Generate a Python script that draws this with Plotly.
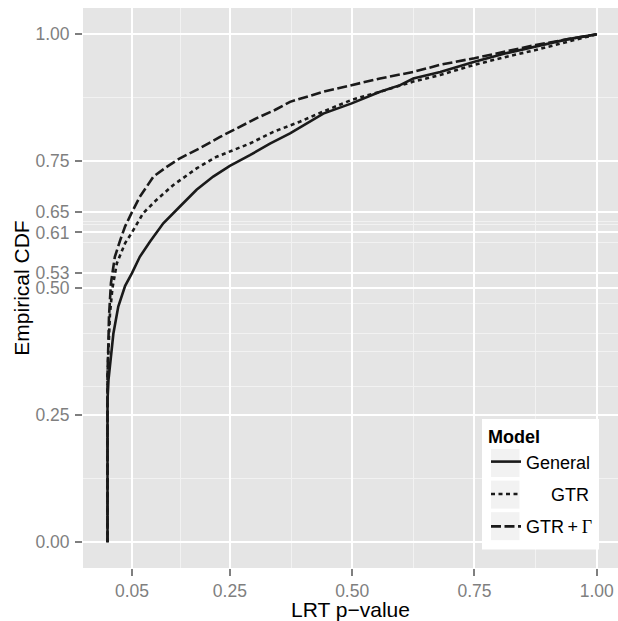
import plotly.graph_objects as go

# ---------------- data ----------------
general_x = [0, 0, 0.002, 0.005, 0.012, 0.022, 0.036, 0.050, 0.066, 0.087, 0.114, 0.148,
             0.182, 0.216, 0.250, 0.291, 0.332, 0.373, 0.441, 0.499, 0.557, 0.598, 0.625,
             0.680, 0.750, 0.816, 0.875, 0.939, 1.0]
general_y = [0, 0.28, 0.32, 0.352, 0.411, 0.464, 0.505, 0.53, 0.562, 0.592, 0.628, 0.661,
             0.694, 0.720, 0.741, 0.762, 0.785, 0.805, 0.844, 0.864, 0.887, 0.900, 0.913,
             0.926, 0.946, 0.963, 0.976, 0.990, 1.0]

gtr_x = [0, 0, 0.002, 0.005, 0.010, 0.019, 0.036, 0.050, 0.073, 0.100, 0.134, 0.182,
         0.223, 0.250, 0.291, 0.339, 0.393, 0.441, 0.499, 0.557, 0.625, 0.680, 0.750,
         0.816, 0.875, 0.939, 1.0]
gtr_y = [0, 0.33, 0.38, 0.45, 0.50, 0.549, 0.589, 0.61, 0.648, 0.674, 0.703, 0.736,
         0.759, 0.769, 0.785, 0.808, 0.828, 0.848, 0.871, 0.887, 0.907, 0.920, 0.940,
         0.956, 0.969, 0.985, 1.0]

gtrg_x = [0, 0, 0.002, 0.003, 0.007, 0.015, 0.026, 0.036, 0.050, 0.066, 0.094, 0.121, 0.148,
          0.189, 0.230, 0.271, 0.305, 0.342, 0.373, 0.441, 0.499, 0.557, 0.625, 0.680,
          0.750, 0.816, 0.875, 0.939, 1.0]
gtrg_y = [0, 0.33, 0.40, 0.444, 0.51, 0.562, 0.595, 0.622, 0.65, 0.680, 0.720, 0.739, 0.756,
          0.776, 0.798, 0.818, 0.835, 0.851, 0.867, 0.887, 0.900, 0.913, 0.926, 0.940,
          0.953, 0.966, 0.979, 0.990, 1.0]

x_ticks = [0.05, 0.25, 0.50, 0.75, 1.00]
x_tick_labels = ["0.05", "0.25", "0.50", "0.75", "1.00"]
x_minor = [0.15, 0.375, 0.625, 0.875]

y_ticks = [0.00, 0.25, 0.50, 0.53, 0.61, 0.65, 0.75, 1.00]
y_tick_labels = ["0.00", "0.25", "0.50", "0.53", "0.61", "0.65", "0.75", "1.00"]
y_minor = [0.125, 0.306, 0.375, 0.411, 0.47, 0.591, 0.625, 0.632, 0.875]

series_names = ["General",
                "\u00a0\u00a0\u00a0\u00a0\u00a0GTR",
                "GTR\u2009+\u2009<span style=\"font-family:'Liberation Serif'\">\u0393</span>"]
series_dash = ["solid", "4px,3.5px", "10px,3.5px"]

# ---------------- figure ----------------
FONT = "Liberation Sans, Arial, sans-serif"
LINE_COLOR = "#1a1a1a"

fig = go.Figure()
for i, (xs, ys) in enumerate([(general_x, general_y), (gtr_x, gtr_y), (gtrg_x, gtrg_y)]):
    fig.add_trace(go.Scatter(
        x=xs, y=ys, mode="lines", name=series_names[i],
        legendgroup=f"g{i}",
        line=dict(color=LINE_COLOR, width=2.6, dash=series_dash[i]),
        hoverinfo="skip",
    ))

W, H = 618, 621
ML, MR, MT, MB = 83, 0, 8, 53
pw = W - ML - MR
ph = H - MT - MB


def px_x(p):
    return (p - ML) / pw


def px_y(p):
    return (H - MB - p) / ph


shapes = [
    dict(type="rect", xref="paper", yref="paper", layer="above",
         x0=px_x(482), x1=px_x(599), y0=px_y(549.5), y1=px_y(419),
         fillcolor="white", line=dict(width=0)),
]
for k in range(3):
    top = 449 + k * 31.6
    shapes.append(dict(type="rect", xref="paper", yref="paper", layer="above",
                       x0=px_x(491), x1=px_x(519.5), y0=px_y(top + 28), y1=px_y(top),
                       fillcolor="#f2f2f2", line=dict(width=0)))

fig.update_layout(
    width=W, height=H,
    margin=dict(l=ML, r=MR, t=MT, b=MB, autoexpand=False),
    paper_bgcolor="white",
    plot_bgcolor="#e5e5e5",
    font=dict(family=FONT, color="black"),
    shapes=shapes,
    showlegend=True,
    legend=dict(
        x=px_x(486), y=px_y(420), xanchor="left", yanchor="top",
        bgcolor="rgba(0,0,0,0)", borderwidth=0,
        font=dict(family=FONT, size=18, color="black"),
        title=dict(text="<b>Model</b>", font=dict(family=FONT, size=18, color="black")),
        tracegroupgap=6,
        itemwidth=30,
    ),
    xaxis=dict(
        range=[-0.0501, 1.0433],
        tickmode="array", tickvals=x_ticks, ticktext=x_tick_labels,
        ticks="outside", ticklen=7, tickwidth=1.5, tickcolor="#7f7f7f",
        tickfont=dict(family=FONT, size=17.5, color="#7f7f7f"),
        showgrid=True, gridcolor="white", gridwidth=2,
        minor=dict(tickvals=x_minor, showgrid=True, gridcolor="#f2f2f2", gridwidth=1, ticks=""),
        zeroline=False, showline=False,
        title=dict(text="LRT p\u2212value", font=dict(family=FONT, size=21, color="black"), standoff=5),
        automargin=False,
    ),
    yaxis=dict(
        range=[-0.0506, 1.0518],
        tickmode="array", tickvals=y_ticks, ticktext=y_tick_labels,
        ticks="outside", ticklen=7, tickwidth=1.5, tickcolor="#7f7f7f",
        tickfont=dict(family=FONT, size=17.5, color="#7f7f7f"),
        ticklabelstandoff=2,
        showgrid=True, gridcolor="white", gridwidth=2,
        minor=dict(tickvals=y_minor, showgrid=True, gridcolor="#f2f2f2", gridwidth=1, ticks=""),
        zeroline=False, showline=False,
        title=dict(text="Empirical CDF", font=dict(family=FONT, size=21, color="black"), standoff=0),
        automargin=False,
    ),
)

fig.write_html("out.html", config={"displayModeBar": False},
               post_script="document.body.style.margin='0px';")
